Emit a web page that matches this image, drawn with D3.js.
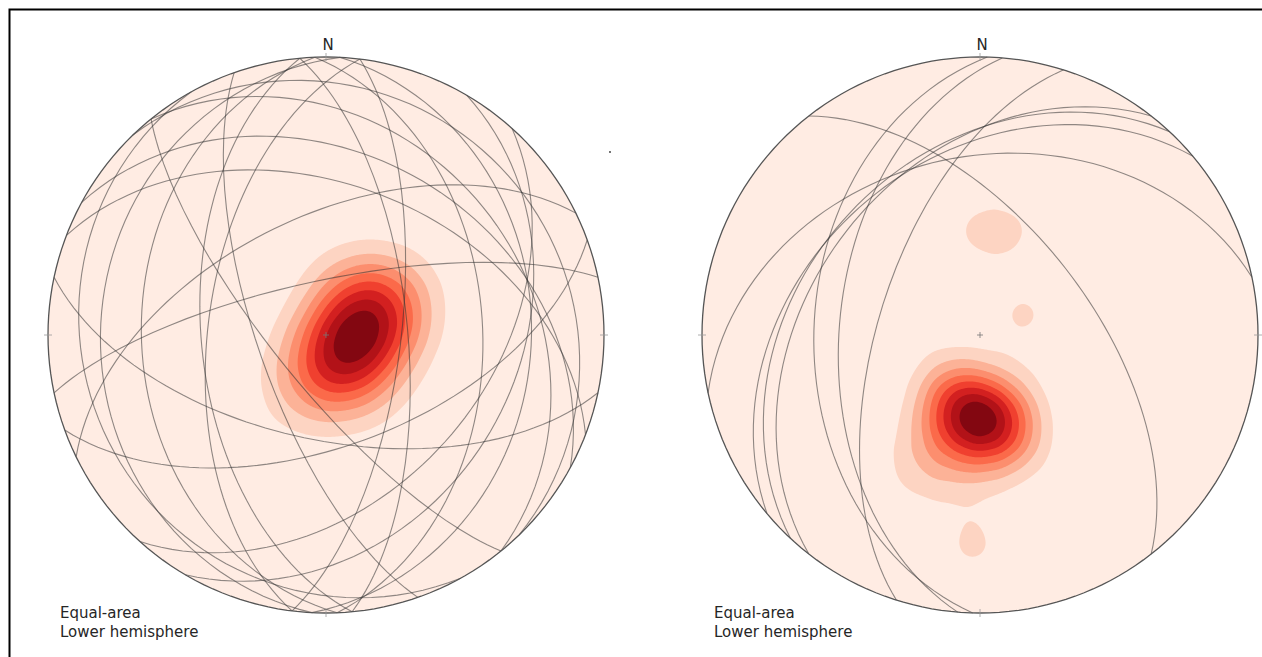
<!DOCTYPE html>
<html lang="en">
<head>
<meta charset="utf-8">
<title>Stereonets</title>
<script src="https://cdn.jsdelivr.net/npm/d3@7"></script>
<style>
  body { margin: 0; background: #fff; }
  svg { display: block; }
  .label { font: 15px "DejaVu Sans", sans-serif; fill: #262626; }
</style>
</head>
<body>
<svg id="chart" width="1262" height="657"></svg>
<script>
// left net: planes, strike (right-hand rule) and dip
var leftStrikes = [258, 102, 70, 151, 160.7, 174.6, 177.7, 182.9, 7, 30.4, 42, 357.7, 2.9, 354.6, 187, 316, 321, 291, 298.5, 244, 141];
var leftDips    = [74, 59, 57, 14, 70, 53, 34, 20, 68, 32, 42, 43, 27, 66, 55, 14, 28, 45, 35, 55, 75];
// left net: lines used for the density contours (trend, plunge, weight)
var leftTrends  = [88, 64, 138, 56, 165, 73, 190, 138, 28, 204.4];
var leftPlunges = [80.6, 75.2, 82.2, 69.2, 77.4, 68.6, 83.4, 73.6, 76, 72.3];
var leftWeights = [2, 2, 2, 1, 1, 1, 1, 1, 1, 1];

// right net
var rightStrikes = [322, 258, 181.5, 184.6, 197.5, 218, 223, 230];
var rightDips    = [58, 36, 40, 48, 60, 39, 36, 37];
var rightTrends  = [181.4, 197.4, 168.9, 207.6, 204.7, 191.8, 180, 154.2, 160, 216.9, 355.6, 19.1, 65, 186.2, 177.9];
var rightPlunges = [66.2, 68.5, 62.4, 59.4, 45.6, 53.7, 52.0, 69.8, 55.4, 75.4, 59.2, 57.5, 76.1, 25.7, 26.1];
var rightWeights = [3, 2.7, 2.7, 1, 1, 1, 1, 1, 1, 1, 0.82, 0.82, 1.02, 0.6, 0.6];

var captionLines = ["Equal-area", "Lower hemisphere"];
var northLabel = "N";
var redStops = ["#fff5f0", "#fee0d2", "#fcbba1", "#fc9272", "#fb6a4a", "#ef3b2c", "#cb181d", "#a50f15", "#67000d"];

var W = 1262, H = 657, R = 278, nBands = 9;
var svg = d3.select("#chart");

var reds = d3.scaleLinear()
    .domain(d3.range(redStops.length).map(function(i) { return i / (redStops.length - 1); }))
    .range(redStops);

// frame
svg.append("path")
    .attr("d", "M9.5,657V9.5H1262")
    .attr("fill", "none")
    .attr("stroke", "#000")
    .attr("stroke-width", 2);

function drawNet(id, cx, cy, strikes, dips, trends, plunges, weights, bw) {
  var proj = d3.geoAzimuthalEqualArea()
      .rotate([0, -90])
      .scale(R / Math.SQRT2)
      .translate([cx, cy])
      .clipAngle(90)
      .precision(0.1);
  var path = d3.geoPath(proj);
  // trend measured clockwise from north -> longitude of the polar view
  var lon = function(t) { return 180 - t; };

  var g = svg.append("g");
  g.append("clipPath").attr("id", "clip" + id)
    .append("path").attr("d", path({type: "Sphere"}));

  g.append("path")
      .attr("d", path({type: "Sphere"}))
      .attr("fill", reds(0.5 / nBands));

  var pts = trends.map(function(t, i) {
    return {p: proj([lon(t), plunges[i]]), w: weights[i]};
  });

  var dens = d3.contourDensity()
      .x(function(d) { return d.p[0] - (cx - R); })
      .y(function(d) { return d.p[1] - (cy - R); })
      .weight(function(d) { return d.w; })
      .size([2 * R, 2 * R])
      .cellSize(1)
      .bandwidth(bw)
      .thresholds(function(v) {
        var m = d3.max(v);
        return d3.range(1, nBands).map(function(k) { return m * k / nBands; });
      })(pts);

  g.append("g")
      .attr("clip-path", "url(#clip" + id + ")")
    .append("g")
      .attr("transform", "translate(" + (cx - R) + "," + (cy - R) + ")")
    .selectAll("path")
    .data(dens)
    .join("path")
      .attr("d", d3.geoPath())
      .attr("fill", function(d, i) { return reds((i + 1.5) / nBands); });

  // great circles
  g.append("g").selectAll("path")
    .data(strikes)
    .join("path")
      .attr("d", function(s, i) {
        return path({type: "LineString", coordinates: [[lon(s), 0], [lon(s + 90), dips[i]], [lon(s + 180), 0]]});
      })
      .attr("fill", "none")
      .attr("stroke", "#333")
      .attr("stroke-opacity", 0.55)
      .attr("stroke-width", 1.1);

  // primitive
  g.append("path")
      .attr("d", path({type: "Sphere"}))
      .attr("fill", "none")
      .attr("stroke", "#555")
      .attr("stroke-width", 1.3);

  // cardinal ticks and centre cross
  var tk = [[0, -1], [1, 0], [0, 1], [-1, 0]];
  g.append("g").selectAll("line")
    .data(tk)
    .join("line")
      .attr("x1", function(d) { return cx + d[0] * (R - 4); })
      .attr("x2", function(d) { return cx + d[0] * (R + 4); })
      .attr("y1", function(d) { return cy + d[1] * (R - 4); })
      .attr("y2", function(d) { return cy + d[1] * (R + 4); })
      .attr("stroke", "#999")
      .attr("stroke-width", 0.8);
  g.append("path")
      .attr("d", "M" + (cx - 3) + "," + cy + "h6M" + cx + "," + (cy - 3) + "v6")
      .attr("stroke", "#777")
      .attr("stroke-width", 0.8);

  g.append("text")
      .attr("class", "label")
      .attr("x", cx + 2)
      .attr("y", cy - R - 7)
      .attr("text-anchor", "middle")
      .text(northLabel);

  g.append("text")
      .attr("class", "label")
      .selectAll("tspan")
      .data(captionLines)
      .join("tspan")
      .attr("x", cx - R + 12)
      .attr("y", function(d, i) { return 618 + i * 19; })
      .text(function(d) { return d; });
}

drawNet("L", 326, 335, leftStrikes, leftDips, leftTrends, leftPlunges, leftWeights, 34);
drawNet("R", 980, 335, rightStrikes, rightDips, rightTrends, rightPlunges, rightWeights, 26);

// stray point right of the first net
svg.append("circle").attr("cx", 610).attr("cy", 152).attr("r", 0.9).attr("fill", "#333");
</script>
</body>
</html>
